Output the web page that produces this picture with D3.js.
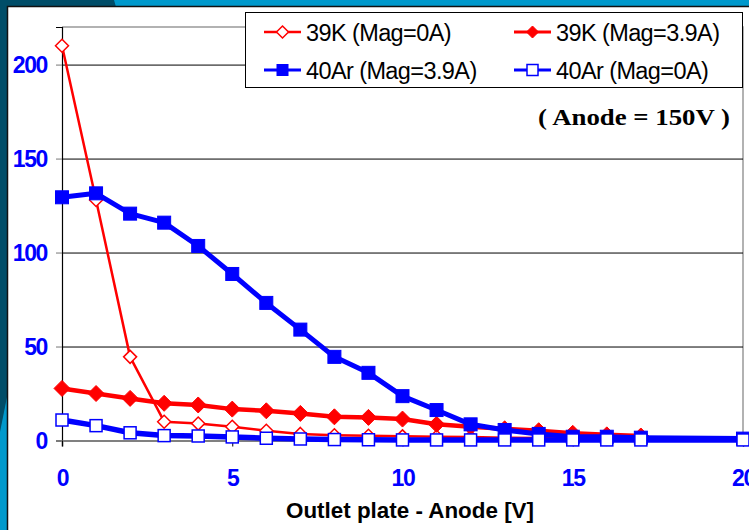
<!DOCTYPE html>
<html>
<head>
<meta charset="utf-8">
<script src="https://cdn.jsdelivr.net/npm/d3@7"></script>
<style>
  body { margin: 0; background: #fff; }
  svg { display: block; }
  .tick text { font-family: "Liberation Sans", Arial, sans-serif; font-weight: bold; fill: #0000ff; }
</style>
</head>
<body>
<script>
const width = 749;
const height = 530;

// data
const xK = [0,1,2,3,4,5,6,7,8,9,10,11,12,13,14,15,16,17];
const xAr = [0,1,2,3,4,5,6,7,8,9,10,11,12,13,14,15,16,17,20];
const k39Mag0 = [210,128,44.5,10,9,7.3,5.2,3.5,2.8,2.5,2.2,2,1.8,1.5,1.3,1,1,1];
const k39Mag39 = [27.7,25,22.4,19.8,18.9,16.7,15.8,14.4,12.6,12.3,11.4,8.6,7.3,6.2,5.2,3.8,3,2.4];
const ar40Mag39 = [129.4,131.5,120.7,115.9,103.5,88.6,73.2,59,44.5,36,23.6,16.2,8.6,5.6,3.5,2,2,1.5,1];
const ar40Mag0 = [10.9,7.9,4.1,2.6,2.4,1.9,1.2,0.8,0.5,0.4,0.3,0.3,0.3,0.3,0.3,0.3,0.3,0.3,0.3];
const yTicks = [0,50,100,150,200];
const xTicks = [0,5,10,15,20];
const seriesNames = ["39K (Mag=0A)", "39K (Mag=3.9A)", "40Ar (Mag=3.9A)", "40Ar (Mag=0A)"];

const series = [
  { name: seriesNames[0], xs: xK, ys: k39Mag0, color: "#ff0000", lw: 2.5, sym: "diamond", fill: "#fff", size: 13 },
  { name: seriesNames[1], xs: xK, ys: k39Mag39, color: "#ff0000", lw: 4.5, sym: "diamond", fill: "#ff0000", size: 16 },
  { name: seriesNames[2], xs: xAr, ys: ar40Mag39, color: "#0000ff", lw: 5, sym: "square", fill: "#0000ff", size: 13 },
  { name: seriesNames[3], xs: xAr, ys: ar40Mag0, color: "#0000ff", lw: 5.5, sym: "square", fill: "#fff", size: 12 }
];

const svg = d3.select("body").append("svg")
    .attr("width", width)
    .attr("height", height);

// slide background bits
svg.append("rect").attr("width", width).attr("height", height).attr("fill", "#004d68");
svg.append("polygon").attr("points", "114,0 749,0 749,7 116,7").attr("fill", "#0099cc");
svg.append("polygon").attr("points", "8,392 8,530 0,530 0,432").attr("fill", "#0099cc");
svg.append("rect")
    .attr("x", 7.5).attr("y", 6.5)
    .attr("width", width).attr("height", height)
    .attr("fill", "#fff").attr("stroke", "#111").attr("stroke-width", 1.5);

const x = d3.scaleLinear().domain([0, 20]).range([62, 743]);
const y = d3.scaleLinear().domain([0, 220]).range([440.5, 27]);

// plot frame (top + right gray)
svg.append("path")
    .attr("d", `M${x(0)},${y(220)}H${x(20)}V${y(0)}`)
    .attr("fill", "none").attr("stroke", "#999").attr("stroke-width", 1.5);

// gridlines
svg.append("g")
    .attr("transform", `translate(${x(0)},0)`)
    .call(d3.axisLeft(y).tickValues(yTicks.filter(d => d > 0)).tickSize(-(x(20) - x(0))).tickFormat(""))
    .call(g => g.select(".domain").remove())
    .call(g => g.selectAll("line").attr("stroke", "#000").attr("stroke-width", 1));

// y axis
svg.append("g")
    .attr("transform", `translate(${x(0)},0)`)
    .call(d3.axisLeft(y).tickValues(yTicks).tickSize(6).tickPadding(9))
    .call(g => g.select(".domain").attr("stroke", "#000").attr("stroke-width", 1.2))
    .call(g => g.selectAll("line").attr("stroke", "#777"))
    .call(g => g.selectAll("text").attr("font-size", 23).attr("letter-spacing", "-1.4px").attr("dy", "0.36em"));

// x axis
svg.append("g")
    .attr("transform", `translate(0,${y(0)})`)
    .call(d3.axisBottom(x).tickValues(xTicks).tickSize(6).tickPadding(23))
    .call(g => g.select(".domain").attr("stroke", "#808080").attr("stroke-width", 2))
    .call(g => g.selectAll("line").attr("stroke", "#000"))
    .call(g => g.selectAll("text").attr("font-size", 23).attr("letter-spacing", "-1.4px"));

svg.append("text")
    .attr("x", 410).attr("y", 518)
    .attr("text-anchor", "middle")
    .attr("font-family", "Liberation Sans, Arial, sans-serif")
    .attr("font-weight", "bold").attr("font-size", 22)
    .attr("textLength", 248).attr("lengthAdjust", "spacingAndGlyphs")
    .text("Outlet plate - Anode [V]");

function marker(sel, s) {
  const h = s.size / 2;
  if (s.sym === "diamond") {
    sel.append("path").attr("d", `M0,${-h}L${h},0L0,${h}L${-h},0Z`);
  } else {
    sel.append("rect").attr("x", -h).attr("y", -h).attr("width", s.size).attr("height", s.size);
  }
  sel.selectAll("path,rect")
    .attr("fill", s.fill)
    .attr("stroke", s.color)
    .attr("stroke-width", s.fill === "#fff" ? 1.5 : 1);
}

const line = d3.line().x(d => x(d[0])).y(d => y(d[1]));

series.forEach(s => {
  const pts = s.xs.map((v, i) => [v, s.ys[i]]);
  const g = svg.append("g");
  g.append("path")
    .datum(pts)
    .attr("d", line)
    .attr("fill", "none")
    .attr("stroke", s.color)
    .attr("stroke-width", s.lw)
    .attr("stroke-linejoin", "round");
  g.selectAll("g.pt")
    .data(pts)
    .join("g")
    .attr("class", "pt")
    .attr("transform", d => `translate(${x(d[0])},${y(d[1])})`)
    .each(function() { marker(d3.select(this), s); });
});

// legend
const legend = svg.append("g");
legend.append("rect")
    .attr("x", 245.5).attr("y", 12.5).attr("width", 497).attr("height", 75)
    .attr("fill", "#fff").attr("stroke", "#000").attr("stroke-width", 1);

const legPos = [[264, 32], [514, 32], [264, 70], [514, 70]];
series.forEach((s, i) => {
  const [lx, ly] = legPos[i];
  const g = legend.append("g").attr("transform", `translate(${lx},${ly})`);
  g.append("line").attr("x1", 0).attr("x2", 37).attr("y1", 0).attr("y2", 0)
    .attr("stroke", s.color).attr("stroke-width", Math.min(s.lw, 3));
  const m = g.append("g").attr("transform", "translate(18.5,0)");
  marker(m, Object.assign({}, s, { size: s.sym === "diamond" ? 12 : 11 }));
  g.append("text")
    .attr("x", 42).attr("y", 8.5)
    .attr("font-family", "Liberation Sans, Arial, sans-serif")
    .attr("font-size", 23.5)
    .attr("letter-spacing", "-0.6px")
    .attr("fill", "#000")
    .text(s.name);
});

svg.append("text")
    .attr("x", 730).attr("y", 125)
    .attr("text-anchor", "end")
    .attr("font-family", "Liberation Serif, Times New Roman, serif")
    .attr("font-weight", "bold").attr("font-size", 24)
    .attr("textLength", 192).attr("lengthAdjust", "spacingAndGlyphs")
    .text("( Anode = 150V )");
</script>
</body>
</html>
